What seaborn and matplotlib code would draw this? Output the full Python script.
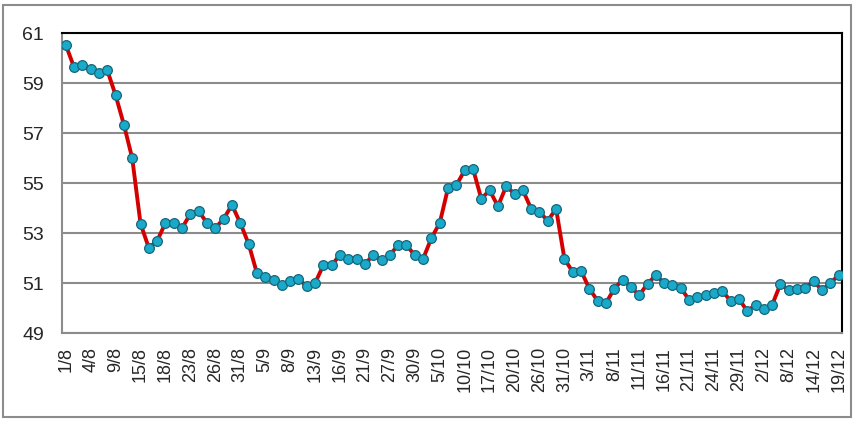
import matplotlib
matplotlib.use('Agg')
import matplotlib.pyplot as plt
import seaborn as sns
import numpy as np
from matplotlib.patches import Rectangle

values = [60.53, 59.63, 59.71, 59.56, 59.40, 59.51, 58.51, 57.33, 55.99, 53.37,
          52.40, 52.69, 53.40, 53.40, 53.20, 53.77, 53.87, 53.40, 53.20, 53.57,
          54.12, 53.40, 52.57, 51.40, 51.24, 51.13, 50.93, 51.07, 51.16, 50.87,
          51.00, 51.71, 51.71, 52.13, 51.97, 51.97, 51.77, 52.11, 51.91, 52.13,
          52.51, 52.51, 52.11, 51.97, 52.80, 53.40, 54.80, 54.91, 55.51, 55.57,
          54.37, 54.71, 54.07, 54.87, 54.57, 54.71, 53.97, 53.84, 53.49, 53.97,
          51.97, 51.44, 51.49, 50.77, 50.29, 50.20, 50.77, 51.13, 50.84, 50.51,
          50.97, 51.31, 51.00, 50.93, 50.80, 50.33, 50.44, 50.51, 50.60, 50.67,
          50.29, 50.37, 49.87, 50.13, 49.97, 50.13, 50.96, 50.71, 50.77, 50.80,
          51.07, 50.71, 51.00, 51.31]

tick_labels = ['1/8', '4/8', '9/8', '15/8', '18/8', '23/8', '26/8', '31/8',
               '5/9', '8/9', '13/9', '16/9', '21/9', '27/9', '30/9', '5/10',
               '10/10', '17/10', '20/10', '26/10', '31/10', '3/11', '8/11',
               '11/11', '16/11', '21/11', '24/11', '29/11', '2/12', '8/12',
               '14/12', '19/12']

y_ticks = [49, 51, 53, 55, 57, 59, 61]

sns.set_style('white')
plt.rcParams['font.family'] = ['Liberation Sans', 'DejaVu Sans']

fig = plt.figure(figsize=(8.59, 4.25), dpi=100)
ax = fig.add_axes([62 / 859, 1 - 333 / 425, 780 / 859, 300 / 425])

idx = np.arange(len(values))
sns.lineplot(x=idx, y=values, ax=ax, color='#D40000', linewidth=2.8,
             marker='o', markersize=7, markerfacecolor='#1BA9C9',
             markeredgecolor='#17667A', markeredgewidth=0.9, zorder=3)

ax.set_ylim(49, 61)
ax.set_yticks(y_ticks)
ax.set_yticklabels([str(v) for v in y_ticks], fontsize=14)
ax.set_xlim(-0.45, len(values) - 1 + 0.4)
ax.set_xticks(idx[::3])
ax.set_xticklabels(tick_labels, rotation=90, fontsize=13)
ax.tick_params(axis='y', length=0, pad=13)
ax.tick_params(axis='x', length=0, pad=10)
ax.set_xlabel('')
ax.set_ylabel('')

ax.grid(axis='y', color='#8C8C8C', linewidth=1.5)
ax.set_axisbelow(True)
for side in ['left', 'bottom']:
    ax.spines[side].set_color('#8C8C8C')
    ax.spines[side].set_linewidth(1.5)
for side in ['top', 'right']:
    ax.spines[side].set_color('black')
    ax.spines[side].set_linewidth(1.5)

# outer frame around the chart
fig.patches.append(Rectangle((3 / 859, 1 - 417 / 425), 848 / 859, 412 / 425,
                             transform=fig.transFigure, fill=False,
                             edgecolor='#8C8C8C', linewidth=1.5))

fig.savefig('out.png', dpi=100)
